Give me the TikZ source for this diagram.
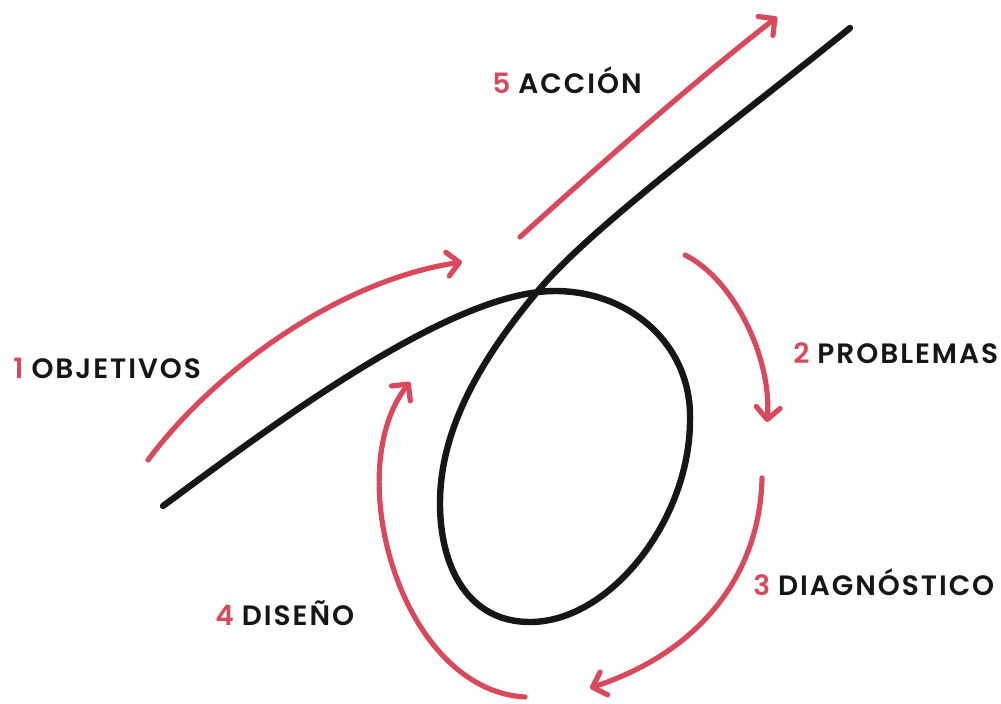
\documentclass[tikz,border=0pt]{standalone}
\usepackage{fontspec}
\newfontfamily\lblfont{Poppins}[LetterSpace=7, BoldFont=* SemiBold]
\usetikzlibrary{arrows.meta}
\definecolor{stepred}{RGB}{218,72,92}
\definecolor{inkblack}{RGB}{22,22,22}
\newcommand{\stepnum}[1]{\textcolor{stepred}{#1}\hspace{4pt}}

\begin{document}
\begin{tikzpicture}[
  x=0.5pt, y=-0.5pt,
  loopline/.style={draw=inkblack, line width=3.2pt, line cap=round},
  cyclearr/.style={draw=stepred, line width=2.6pt, line cap=round,
                   -{Straight Barb[length=6pt,width=12pt,round]}},
  lbl/.style={font=\lblfont\bfseries\fontsize{14}{16}\selectfont, text=inkblack,
              inner sep=0pt, anchor=base west}
]
  \useasboundingbox (0,0) rectangle (1001,703);

  % the looping line
  \draw[loopline] (163,506) .. controls (270,427) and (450,291) .. (555,291)
    .. controls (630,291) and (692,345) .. (690,420)
    .. controls (690,520) and (610,622) .. (530,622)
    .. controls (470,622) and (440,570) .. (440,503)
    .. controls (440,430) and (480,360) .. (537,292)
    .. controls (590,228) and (730,125) .. (850,28);

  % cycle arrows
  \draw[cyclearr] (148,460) .. controls (215,370) and (340,280) .. (462,262);
  \draw[cyclearr] (685,255) .. controls (735,280) and (772,360) .. (767,422);
  \draw[cyclearr] (762,478) .. controls (760,570) and (705,650) .. (590,688);
  \draw[cyclearr] (525,697) .. controls (400,690) and (340,470) .. (410,382);
  \draw[cyclearr] (520,237) .. controls (605,160) and (690,85) .. (777,17);

  % labels
  \node[lbl] (objlbl)  at (13,378)  {\stepnum{1}OBJETIVOS};
  \node[lbl] (problbl) at (793,363) {\stepnum{2}PROBLEMAS};
  \node[lbl] (diaglbl) at (753,595) {\stepnum{3}DIAGNÓSTICO};
  \node[lbl] (dislbl)  at (215,625) {\stepnum{4}DISEÑO};
  \node[lbl] (acclbl)  at (492,93)  {\stepnum{5}ACCIÓN};
\end{tikzpicture}
\end{document}
